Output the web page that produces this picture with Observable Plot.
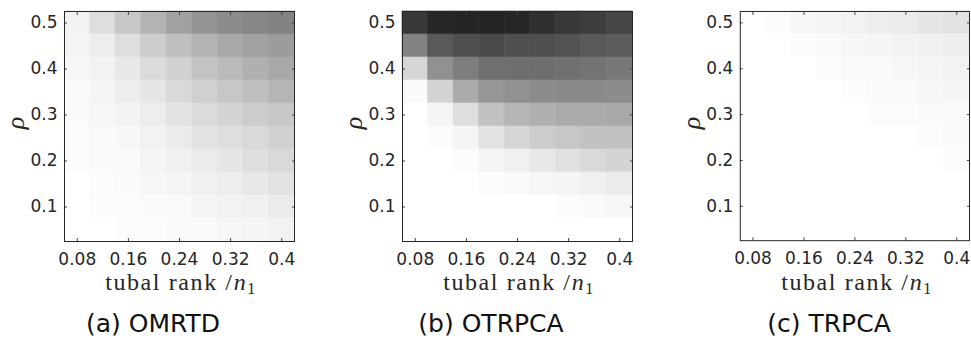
<!DOCTYPE html>
<html><head><meta charset="utf-8">
<script src="https://cdn.jsdelivr.net/npm/d3@7"></script>
<script src="https://cdn.jsdelivr.net/npm/@observablehq/plot@0.6"></script>
<style>
body{margin:0;background:#fff;}
#fig{position:relative;width:971px;height:339px;overflow:hidden;font-family:"DejaVu Sans",sans-serif;color:#262626;background:#fff}
.panel{position:absolute;top:0}
.xlab{position:absolute;top:270px;font-family:"Liberation Serif",serif;font-size:24px;letter-spacing:1.6px;white-space:nowrap;transform:translateX(-50%);line-height:24px}
.xlab sub{font-size:16px;vertical-align:-4px;line-height:0}
.ylab{position:absolute;font-family:"Liberation Serif",serif;font-style:italic;font-size:26px;transform:translate(-50%,-50%) rotate(-90deg);line-height:26px}
.cap{position:absolute;top:310px;font-size:25px;white-space:nowrap;transform:translateX(-50%);line-height:28px;color:#111}
</style>
</head><body>
<div id="fig"></div>
<script>
// tubal rank / n1 (columns)
const rankRatio = [0.08, 0.12, 0.16, 0.20, 0.24, 0.28, 0.32, 0.36, 0.40];
// rho (rows, listed top to bottom)
const rhoRows = [0.50, 0.45, 0.40, 0.35, 0.30, 0.25, 0.20, 0.15, 0.10, 0.05];
const xTicks = [0.08, 0.16, 0.24, 0.32, 0.4];
const yTicks = [0.1, 0.2, 0.3, 0.4, 0.5];
const panelTitles = ["(a) OMRTD", "(b) OTRPCA", "(c) TRPCA"];

// failure level per cell (0 = white, 1 = black), rows follow rhoRows
const omrtd = [
  [0.05,0.13,0.22,0.30,0.37,0.42,0.45,0.47,0.49],
  [0.04,0.07,0.13,0.20,0.25,0.30,0.34,0.37,0.39],
  [0.03,0.05,0.09,0.14,0.18,0.23,0.27,0.31,0.34],
  [0.02,0.04,0.07,0.10,0.15,0.18,0.22,0.25,0.29],
  [0.02,0.03,0.05,0.07,0.11,0.14,0.17,0.20,0.22],
  [0.01,0.02,0.03,0.05,0.08,0.11,0.13,0.15,0.18],
  [0.01,0.02,0.02,0.04,0.06,0.08,0.10,0.13,0.15],
  [0.00,0.01,0.02,0.03,0.04,0.06,0.07,0.09,0.11],
  [0.00,0.01,0.01,0.02,0.02,0.04,0.05,0.06,0.08],
  [0.00,0.00,0.01,0.01,0.02,0.02,0.03,0.04,0.05]
];
const otrpca = [
  [0.78,0.85,0.86,0.86,0.85,0.81,0.78,0.76,0.73],
  [0.49,0.65,0.69,0.71,0.69,0.69,0.68,0.65,0.64],
  [0.16,0.43,0.51,0.56,0.57,0.57,0.56,0.55,0.53],
  [0.02,0.17,0.33,0.41,0.43,0.45,0.46,0.46,0.45],
  [0.00,0.04,0.13,0.24,0.29,0.31,0.33,0.33,0.34],
  [0.00,0.01,0.04,0.11,0.16,0.20,0.22,0.24,0.24],
  [0.00,0.00,0.01,0.04,0.06,0.09,0.12,0.15,0.17],
  [0.00,0.00,0.00,0.01,0.02,0.03,0.04,0.06,0.08],
  [0.00,0.00,0.00,0.00,0.00,0.00,0.01,0.02,0.03],
  [0.00,0.00,0.00,0.00,0.00,0.00,0.00,0.00,0.00]
];
const trpca = [
  [0.00,0.01,0.03,0.04,0.05,0.07,0.08,0.10,0.11],
  [0.00,0.00,0.01,0.02,0.03,0.04,0.05,0.06,0.07],
  [0.00,0.00,0.00,0.01,0.02,0.02,0.03,0.04,0.05],
  [0.00,0.00,0.00,0.00,0.01,0.02,0.02,0.03,0.04],
  [0.00,0.00,0.00,0.00,0.00,0.01,0.01,0.02,0.02],
  [0.00,0.00,0.00,0.00,0.00,0.00,0.00,0.01,0.02],
  [0.00,0.00,0.00,0.00,0.00,0.00,0.00,0.00,0.01],
  [0.00,0.00,0.00,0.00,0.00,0.00,0.00,0.00,0.00],
  [0.00,0.00,0.00,0.00,0.00,0.00,0.00,0.00,0.00],
  [0.00,0.00,0.00,0.00,0.00,0.00,0.00,0.00,0.00]
];

const matrices = [omrtd, otrpca, trpca];
const halfX = (rankRatio[1] - rankRatio[0]) / 2;
const halfY = (rhoRows[0] - rhoRows[1]) / 2;

const fig = document.getElementById("fig");
const ML = 64, PW = 230, PT = 11, PH = 230, STEP = 338;
const FS = 17;

matrices.forEach((m, k) => {
  const cells = [];
  m.forEach((row, i) => row.forEach((v, j) => cells.push({r: rankRatio[j], rho: rhoRows[i], v})));
  const chart = Plot.plot({
    width: ML + PW + 2,
    height: PT + PH + 39,
    marginLeft: ML, marginRight: 2, marginTop: PT, marginBottom: 39,
    style: {fontFamily: "'DejaVu Sans', sans-serif", fontSize: FS + "px", color: "#262626", background: "white"},
    x: {domain: [rankRatio[0] - halfX, rankRatio[rankRatio.length - 1] + halfX], label: null},
    y: {domain: [rhoRows[rhoRows.length - 1] - halfY, rhoRows[0] + halfY], label: null},
    color: {type: "linear", domain: [0, 1], range: ["#ffffff", "#000000"]},
    marks: [
      Plot.rect(cells, {x1: d => d.r - halfX, x2: d => d.r + halfX, y1: d => d.rho - halfY, y2: d => d.rho + halfY, fill: "v", stroke: "v", strokeWidth: 0.6}),
      Plot.axisX(xTicks, {anchor: "bottom", tickSize: -3, tickPadding: 14, fontSize: FS, tickFormat: d => String(d), label: null, stroke: "#444"}),
      Plot.axisX(xTicks, {anchor: "top", tickSize: -3, tickFormat: () => "", label: null, stroke: "#444"}),
      Plot.axisY(yTicks, {anchor: "left", tickSize: -3, tickPadding: 10, fontSize: FS, tickFormat: d => String(d), label: null, stroke: "#444"}),
      Plot.axisY(yTicks, {anchor: "right", tickSize: -3, tickFormat: () => "", label: null, stroke: "#444"}),
      Plot.frame({stroke: "#262626", strokeWidth: 1})
    ]
  });
  const wrap = document.createElement("div");
  wrap.className = "panel";
  wrap.style.left = (k * STEP) + "px";
  wrap.appendChild(chart);
  fig.appendChild(wrap);

  const cx = k * STEP + ML + PW / 2;
  const xl = document.createElement("div");
  xl.className = "xlab";
  xl.style.left = (cx + 2) + "px";
  xl.innerHTML = "tubal rank /<i>n</i><sub>1</sub>";
  fig.appendChild(xl);

  const yl = document.createElement("div");
  yl.className = "ylab";
  yl.style.left = (k * STEP + ML - 48) + "px";
  yl.style.top = "123px";
  yl.textContent = "ρ";
  fig.appendChild(yl);

  const cap = document.createElement("div");
  cap.className = "cap";
  cap.style.left = (cx - 26) + "px";
  cap.textContent = panelTitles[k];
  fig.appendChild(cap);
});
</script>
</body></html>
